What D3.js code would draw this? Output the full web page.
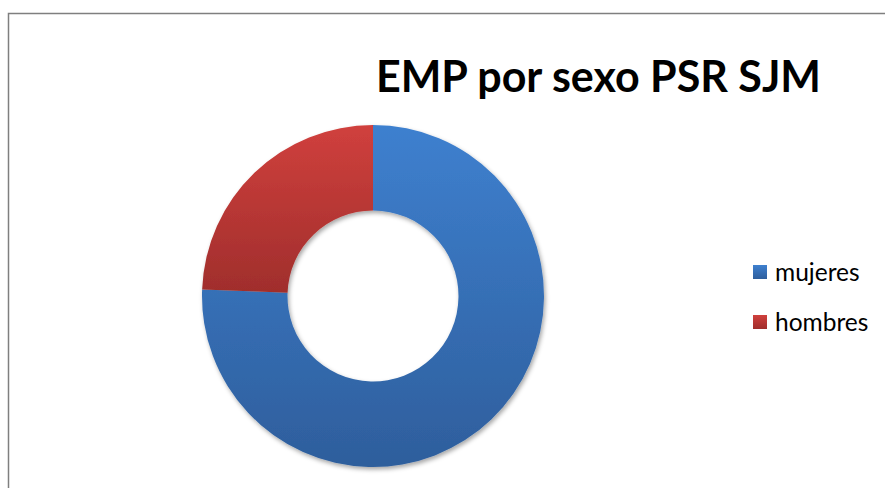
<!DOCTYPE html>
<html>
<head>
<meta charset="utf-8">
<script src="https://cdn.jsdelivr.net/npm/d3@7"></script>
<style>
  html, body { margin: 0; padding: 0; background: #fff; }
  svg { display: block; }
</style>
</head>
<body>
<svg id="chart" width="885" height="488"></svg>
<script>
// Data
const categories = ["mujeres", "hombres"];
const values = [31, 10];
const colorsTop = ["#3e80cf", "#d0403d"];
const colorsBottom = ["#2e5e9c", "#a02e2c"];
const titleText = "EMP por sexo PSR SJM";

const svg = d3.select("#chart");
const W = 885, H = 488;

// Frame around the chart area
svg.append("rect")
  .attr("x", 8.5).attr("y", 13.5)
  .attr("width", W + 20).attr("height", H + 20)
  .attr("fill", "#fff")
  .attr("stroke", "#7f7f7f")
  .attr("stroke-width", 1.5);

const defs = svg.append("defs");

// Vertical gradient per slice
categories.forEach((c, i) => {
  const g = defs.append("linearGradient")
    .attr("id", "grad" + i)
    .attr("x1", 0).attr("y1", 0).attr("x2", 0).attr("y2", 1);
  g.append("stop").attr("offset", "0%").attr("stop-color", colorsTop[i]);
  g.append("stop").attr("offset", "100%").attr("stop-color", colorsBottom[i]);
});

// Soft shadow under the ring
const f = defs.append("filter").attr("id", "shadow")
  .attr("x", "-10%").attr("y", "-10%").attr("width", "120%").attr("height", "120%");
f.append("feDropShadow")
  .attr("dx", 1.5).attr("dy", 2.5)
  .attr("stdDeviation", 2.2)
  .attr("flood-color", "#000")
  .attr("flood-opacity", 0.35);

// Donut
const cx = 373, cy = 296, outerR = 171, innerR = 85.5;
const pie = d3.pie().sort(null).value(d => d.v);
const arc = d3.arc().innerRadius(innerR).outerRadius(outerR);
const data = pie(categories.map((c, i) => ({ c, v: values[i], i })));

const ring = svg.append("g")
  .attr("transform", `translate(${cx},${cy})`)
  .attr("filter", "url(#shadow)");

ring.selectAll("path")
  .data(data)
  .join("path")
  .attr("d", arc)
  .attr("fill", d => `url(#grad${d.data.i})`)
  .attr("stroke", "none");

// Title
svg.append("text")
  .attr("x", 376).attr("y", 92)
  .attr("font-family", "Lato, 'Open Sans', sans-serif")
  .attr("font-weight", "bold")
  .attr("font-size", 44)
  .attr("fill", "#000")
  .attr("textLength", 445)
  .attr("lengthAdjust", "spacingAndGlyphs")
  .text(titleText);

// Legend
const legend = svg.append("g").attr("transform", "translate(753,265)");
const items = legend.selectAll("g")
  .data(categories)
  .join("g")
  .attr("transform", (d, i) => `translate(0,${i * 50})`);

items.append("rect")
  .attr("width", 14).attr("height", 14)
  .attr("fill", (d, i) => `url(#grad${i})`);

items.append("text")
  .attr("x", 22).attr("y", 15.5)
  .attr("font-family", "Lato, 'Open Sans', sans-serif")
  .attr("font-size", 24.5)
  .attr("fill", "#000")
  .text(d => d);
</script>
</body>
</html>
